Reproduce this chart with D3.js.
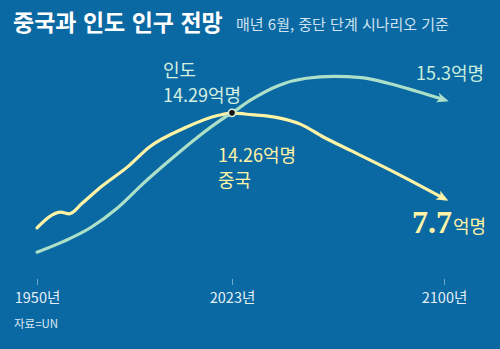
<!DOCTYPE html>
<html lang="ko">
<head>
<meta charset="utf-8">
<script src="https://cdn.jsdelivr.net/npm/d3@7"></script>
<style>
  html, body { margin: 0; padding: 0; background: #0a68a2; }
  svg { display: block; }
  text { font-family: "Noto Sans CJK KR", "Noto Sans", sans-serif; }
</style>
</head>
<body>
<svg id="chart" width="500" height="349"></svg>
<script>
// Population (억명), UN medium-variant scenario, June of each year
const chinaYears = [1950, 1959, 1962, 1967, 1974, 1984, 1992, 2005, 2018, 2023, 2030, 2040, 2048, 2056, 2066, 2084, 2100];
const chinaPop   = [5.44, 6.65, 6.52, 7.35, 8.6, 10.15, 11.65, 13.1, 14.1, 14.26, 14.15, 13.9, 13.4, 12.45, 11.4, 9.5, 7.7];

const indiaYears = [1950, 1960, 1970, 1980, 1990, 2000, 2010, 2020, 2023, 2030, 2040, 2050, 2060, 2070, 2080, 2090, 2100];
const indiaPop   = [3.57, 4.4, 5.45, 6.95, 8.9, 10.7, 12.4, 13.9, 14.29, 15.3, 16.4, 16.95, 17.1, 17.0, 16.55, 15.95, 15.3];

const tickYears = [1950, 2023, 2100];

const title = "중국과 인도 인구 전망";
const subtitle = "매년 6월, 중단 단계 시나리오 기준";
const source = "자료=UN";

const BG = "#0a68a2";
const CHINA = "#fff3a6";
const INDIA = "#ace0c8";

const svg = d3.select("#chart");

const x = d3.scaleLinear().domain([1950, 2023, 2100]).range([37, 232, 444]);
const y = d3.scaleLinear().domain([0, 18]).range([298.6, 64.6]);

svg.append("rect").attr("width", 500).attr("height", 349).attr("fill", BG);

// Title block
svg.append("text").attr("x", 13).attr("y", 31)
  .attr("font-size", 23).attr("font-weight", 700).attr("fill", "#ffffff")
  .text(title);
svg.append("text").attr("x", 236).attr("y", 30)
  .attr("font-size", 15).attr("fill", "#d0e3f0")
  .text(subtitle);

// Arrowheads
const defs = svg.append("defs");
function arrow(id, color) {
  defs.append("marker")
    .attr("id", id)
    .attr("viewBox", "0 0 12 12")
    .attr("refX", 7).attr("refY", 6)
    .attr("markerWidth", 12).attr("markerHeight", 12)
    .attr("markerUnits", "userSpaceOnUse")
    .attr("orient", "auto")
    .append("path")
    .attr("d", "M0,1 L12,6 L0,11 L3,6 Z")
    .attr("fill", color);
}
arrow("arrow-china", CHINA);
arrow("arrow-india", INDIA);

const line = d3.line()
  .x(d => x(d[0]))
  .y(d => y(d[1]))
  .curve(d3.curveMonotoneX);

const chinaData = chinaYears.map((yr, i) => [yr, chinaPop[i]]);
const indiaData = indiaYears.map((yr, i) => [yr, indiaPop[i]]);

svg.append("path").datum(chinaData)
  .attr("d", line)
  .attr("fill", "none").attr("stroke", CHINA)
  .attr("stroke-width", 3.2).attr("stroke-linecap", "round").attr("stroke-linejoin", "round")
  .attr("marker-end", "url(#arrow-china)");

svg.append("path").datum(indiaData)
  .attr("d", line)
  .attr("fill", "none").attr("stroke", INDIA)
  .attr("stroke-width", 3.2).attr("stroke-linecap", "round").attr("stroke-linejoin", "round")
  .attr("marker-end", "url(#arrow-india)");

// Crossing point in 2023
const crossIdx = indiaYears.indexOf(2023);
svg.append("circle")
  .attr("cx", x(2023)).attr("cy", y(indiaPop[crossIdx]))
  .attr("r", 3.6)
  .attr("fill", "#141414").attr("stroke", "#d9efdc").attr("stroke-width", 1.6);

// X axis
const axis = svg.append("g").attr("transform", "translate(0,279)")
  .call(d3.axisBottom(x).tickValues(tickYears).tickSize(6).tickPadding(8)
    .tickFormat(d => d + "년"));
axis.select(".domain").remove();
axis.selectAll(".tick line").attr("stroke", "#6fa6cc").attr("stroke-width", 1);
axis.selectAll(".tick text")
  .attr("fill", "#e3eff8").attr("font-size", 14.5)
  .style("font-family", "'Noto Sans CJK KR', sans-serif");

svg.append("text").attr("x", 14).attr("y", 328)
  .attr("font-size", 11.5).attr("fill", "#dce9f4")
  .text(source);

// Value labels
const indiaNow = indiaPop[crossIdx];
const chinaNow = chinaPop[chinaYears.indexOf(2023)];
const indiaEnd = indiaPop[indiaPop.length - 1];
const chinaEnd = chinaPop[chinaPop.length - 1];

svg.append("text").attr("x", 163).attr("y", 77)
  .attr("font-size", 18).attr("fill", "#d5f0e0").text("인도");
svg.append("text").attr("x", 163).attr("y", 102)
  .attr("font-size", 18).attr("fill", "#d5f0e0").text(indiaNow.toFixed(2) + "억명");

svg.append("text").attr("x", 218).attr("y", 162)
  .attr("font-size", 18).attr("fill", CHINA).text(chinaNow.toFixed(2) + "억명");
svg.append("text").attr("x", 218).attr("y", 187)
  .attr("font-size", 18).attr("fill", CHINA).text("중국");

svg.append("text").attr("x", 416).attr("y", 80)
  .attr("font-size", 18).attr("fill", "#c9eedb").text(indiaEnd.toFixed(1) + "억명");

const endLabel = svg.append("text").attr("x", 412).attr("y", 233).attr("fill", CHINA);
endLabel.append("tspan")
  .attr("font-family", "'Liberation Serif', 'DejaVu Serif', serif")
  .attr("font-weight", 700).attr("font-size", 32)
  .text(chinaEnd.toFixed(1));
endLabel.append("tspan")
  .attr("font-size", 18).attr("dx", 1)
  .text("억명");
</script>
</body>
</html>
